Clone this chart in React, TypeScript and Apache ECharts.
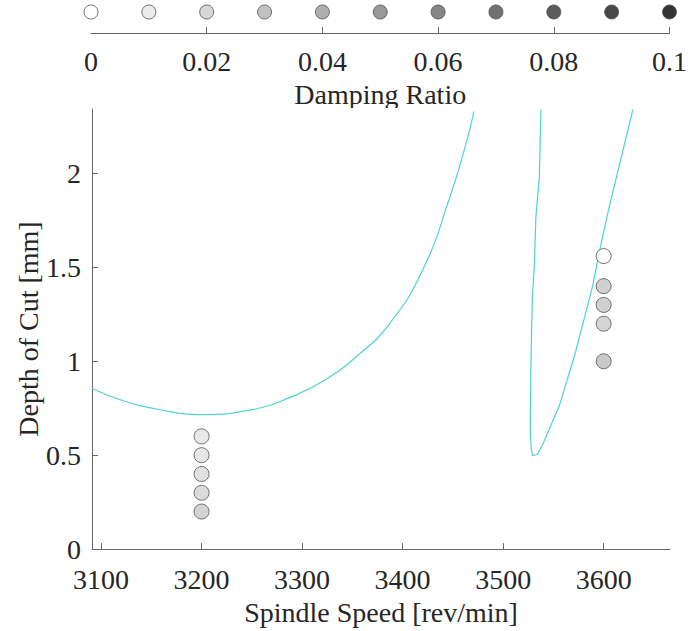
import React, { useEffect, useRef } from "react";
import * as echarts from "echarts";

const dampingTicks = [0, 0.02, 0.04, 0.06, 0.08, 0.1];
const dampingLevels = [0, 0.01, 0.02, 0.03, 0.04, 0.05, 0.06, 0.07, 0.08, 0.09, 0.1];
const dampingColors = ["#ffffff", "#e6e6e6", "#cccccc", "#b3b3b3", "#999999", "#808080", "#666666", "#4d4d4d", "#333333", "#1a1a1a", "#000000"];

const speedTicks = [3100, 3200, 3300, 3400, 3500, 3600];
const depthTicks = [0, 0.5, 1, 1.5, 2];

const lobeLeft: [number, number][] = [
  [3091, 0.855], [3122, 0.79], [3155, 0.746], [3198, 0.716], [3254, 0.746],
  [3288, 0.808], [3321, 0.895], [3354, 1.025], [3387, 1.2], [3420, 1.487],
  [3446, 1.857], [3463, 2.157], [3471, 2.33],
];
const lobeRight: [number, number][] = [
  [3537.6, 2.34], [3536, 1.98], [3532.6, 1.77], [3531, 1.505], [3529, 1.33],
  [3527.6, 0.977], [3527, 0.624], [3528, 0.53], [3529.5, 0.497], [3534, 0.505],
  [3539, 0.553], [3556, 0.765], [3572, 1.048], [3589, 1.4], [3595.5, 1.577],
  [3605, 1.81], [3618.6, 2.11], [3629, 2.34],
];

const testSpeeds = [3200, 3200, 3200, 3200, 3200, 3600, 3600, 3600, 3600, 3600];
const testDepths = [0.6, 0.5, 0.4, 0.3, 0.2, 1.56, 1.4, 1.3, 1.2, 1.0];
const testColors = ["#e4e4e4", "#e1e1e1", "#dadada", "#d2d2d2", "#c8c8c8", "#ffffff", "#c4c4c4", "#c4c4c4", "#c9c9c9", "#bcbcbc"];

const FONT = "Liberation Serif";
const AXIS_COLOR = "#666666";
const TEXT_COLOR = "#262626";
const LOBE_COLOR = "#4fd3cd";

export default function App() {
  const ref = useRef<HTMLDivElement>(null);
  useEffect(() => {
    if (!ref.current) return;
    const chart = echarts.init(ref.current, undefined, { renderer: "svg" });
    chart.setOption({
      animation: false,
      backgroundColor: "#ffffff",
      textStyle: { fontFamily: FONT },
      grid: [
        { left: 92, right: 20, top: 109, bottom: 80 },
        { left: 91, width: 581, top: 5, height: 28 },
      ],
      xAxis: [
        {
          type: "value",
          gridIndex: 0,
          min: 3091,
          max: 3666,
          name: "Spindle Speed [rev/min]",
          nameLocation: "middle",
          nameGap: 46,
          nameTextStyle: { fontFamily: FONT, fontSize: 28, color: TEXT_COLOR },
          axisLine: { show: true, onZero: false, lineStyle: { color: AXIS_COLOR, width: 1 } },
          axisTick: { show: true, inside: true, length: 6, customValues: speedTicks, lineStyle: { color: AXIS_COLOR } },
          axisLabel: {
            customValues: speedTicks,
            formatter: (v: number) => String(v),
            fontFamily: FONT,
            fontSize: 28,
            color: TEXT_COLOR,
            margin: 16,
          },
          splitLine: { show: false },
        },
        {
          type: "value",
          gridIndex: 1,
          min: 0,
          max: 0.1,
          position: "bottom",
          name: "Damping Ratio",
          nameLocation: "middle",
          nameGap: 47,
          nameTextStyle: { fontFamily: FONT, fontSize: 28, color: TEXT_COLOR },
          axisLine: { show: true, onZero: false, lineStyle: { color: AXIS_COLOR, width: 1 } },
          axisTick: { show: true, inside: true, length: 6, customValues: dampingTicks.slice(1), lineStyle: { color: AXIS_COLOR } },
          axisLabel: {
            customValues: dampingTicks,
            formatter: (v: number) => String(v),
            fontFamily: FONT,
            fontSize: 28,
            color: TEXT_COLOR,
            margin: 14,
          },
          splitLine: { show: false },
        },
      ],
      yAxis: [
        {
          type: "value",
          gridIndex: 0,
          min: 0,
          max: 2.343,
          name: "Depth of Cut [mm]",
          nameLocation: "middle",
          nameGap: 50,
          nameMoveOverlap: false,
          nameRotate: 90,
          nameTextStyle: { fontFamily: FONT, fontSize: 28, color: TEXT_COLOR },
          axisLine: { show: true, onZero: false, lineStyle: { color: AXIS_COLOR, width: 1 } },
          axisTick: { show: true, inside: true, length: 6, customValues: depthTicks, lineStyle: { color: AXIS_COLOR } },
          axisLabel: {
            customValues: depthTicks,
            formatter: (v: number) => String(v),
            fontFamily: FONT,
            fontSize: 28,
            color: TEXT_COLOR,
            margin: 11,
          },
          splitLine: { show: false },
        },
        {
          type: "value",
          gridIndex: 1,
          min: 0,
          max: 1,
          show: false,
        },
      ],
      graphic: [
        {
          type: "rect",
          shape: { x: 280, y: 108, width: 186, height: 8 },
          style: { fill: "#ffffff" },
          z: 50,
          silent: true,
        },
      ],
      series: [
        {
          type: "line",
          xAxisIndex: 0,
          yAxisIndex: 0,
          data: lobeLeft,
          smooth: 0.5,
          showSymbol: false,
          clip: true,
          z: 60,
          lineStyle: { color: LOBE_COLOR, width: 1.2 },
        },
        {
          type: "line",
          xAxisIndex: 0,
          yAxisIndex: 0,
          data: lobeRight,
          smooth: false,
          showSymbol: false,
          clip: true,
          z: 60,
          lineStyle: { color: LOBE_COLOR, width: 1.2 },
        },
        {
          type: "scatter",
          xAxisIndex: 0,
          yAxisIndex: 0,
          symbolSize: 15,
          z: 70,
          data: testSpeeds.map((s, i) => ({
            value: [s, testDepths[i]],
            itemStyle: { color: testColors[i], borderColor: "#505050", borderWidth: 1 },
          })),
        },
        {
          type: "scatter",
          xAxisIndex: 1,
          yAxisIndex: 1,
          symbolSize: 14,
          clip: false,
          data: dampingLevels.map((d, i) => ({
            value: [d, 0.75],
            itemStyle: { color: dampingColors[i], borderColor: "#505050", borderWidth: 1 },
          })),
        },
      ],
    });
    return () => chart.dispose();
  }, []);
  return (
    <div
      ref={ref}
      style={{ position: "absolute", left: 0, top: 0, width: 690, height: 631 }}
    />
  );
}
